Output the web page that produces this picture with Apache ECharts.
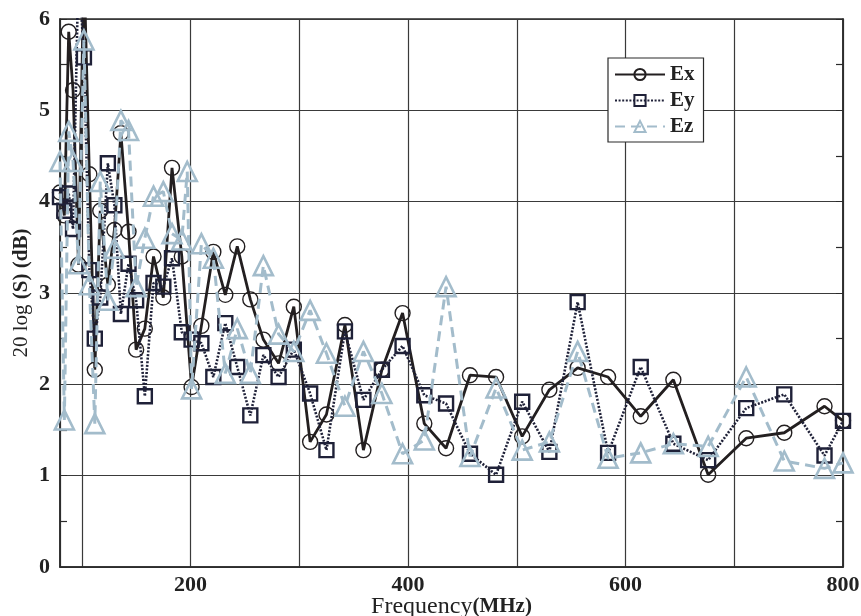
<!DOCTYPE html>
<html>
<head>
<meta charset="utf-8">
<script src="https://cdn.jsdelivr.net/npm/echarts@6/dist/echarts.min.js"></script>
<style>
  html, body { margin: 0; padding: 0; background: #fff; }
  #chart { width: 861px; height: 616px; }
</style>
</head>
<body>
<div id="chart"></div>
<script>
// frequencies (MHz)
var freq = [80, 84, 88, 92, 97, 102, 107, 112, 117, 124,
            130, 136, 143, 150, 158, 166, 175, 183, 192, 197,
            201, 210, 221, 232, 243, 255, 267, 281, 295, 310,
            325, 342, 359, 376, 395, 415, 435, 457, 481, 505,
            530, 556, 584, 614, 644, 676, 711, 746, 783, 800];

var ex = [4.10, 3.85, 5.86, 5.22, 3.31, 6.60, 4.30, 2.16, 3.90, 3.09,
          3.69, 4.75, 3.67, 2.38, 2.61, 3.40, 2.95, 4.37, 3.40, null,
          1.97, 2.64, 3.45, 2.98, 3.51, 2.93, 2.49, 2.23, 2.85, 1.37,
          1.67, 2.65, 1.28, 2.16, 2.78, 1.57, 1.30, 2.10, 2.08, 1.43,
          1.94, 2.18, 2.08, 1.65, 2.05, 1.01, 1.41, 1.47, 1.76, 1.60];

var ey = [4.05, 3.90, 4.09, 3.70, 6.60, 5.58, 3.25, 2.50, 2.95, 4.42,
          3.96, 2.77, 3.32, 2.92, 1.87, 3.11, 3.07, 3.38, 2.57, null,
          2.49, 2.45, 2.08, 2.67, 2.19, 1.66, 2.32, 2.08, 2.38, 1.90,
          1.28, 2.58, 1.83, 2.16, 2.42, 1.88, 1.79, 1.24, 1.01, 1.81,
          1.26, 2.90, 1.25, 2.19, 1.35, 1.17, 1.74, 1.89, 1.22, 1.60];

var ez = [4.44, 1.61, 4.77, 4.44, 3.32, 5.77, 3.09, 1.57, 4.22, 2.92,
          3.49, 4.89, 4.78, 3.07, 3.60, 4.06, 4.11, 3.65, 3.58, 4.33,
          1.95, 3.54, 3.38, 2.12, 2.61, 2.12, 3.30, 2.55, 2.36, 2.81,
          2.34, 1.76, 2.36, 1.90, 1.24, 1.39, 3.07, 1.21, 1.96, 1.28,
          1.37, 2.36, 1.19, 1.25, 1.35, 1.32, 2.08, 1.16, 1.08, 1.14];

var xLabels = [200, 400, 600, 800];

var chart = echarts.init(document.getElementById('chart'));

function pairs(values) {
    return freq.map(function (f, i) {
        return [f, values[i]];
    }).filter(function (p) {
        return p[1] !== null;
    });
}

var serif = '"Liberation Serif", "DejaVu Serif", serif';
var frameColor = '#2a2a2a';

var option = {
    backgroundColor: '#fff',
    animation: false,
    grid: {
        left: 60,
        right: 18,
        top: 19,
        bottom: 49,
        containLabel: false,
        outerBoundsMode: 'none',
        show: true,
        borderColor: frameColor,
        borderWidth: 1.5
    },
    legend: {
        orient: 'vertical',
        left: 608,
        top: 58,
        padding: [6, 9, 5, 6],
        itemGap: 5,
        itemWidth: 50,
        itemHeight: 14,
        backgroundColor: '#fff',
        borderColor: frameColor,
        borderWidth: 1.2,
        textStyle: {
            fontFamily: serif,
            fontWeight: 'bold',
            fontSize: 21,
            color: '#222'
        },
        data: ['Ex', 'Ey', 'Ez']
    },
    xAxis: {
        type: 'value',
        min: 80,
        max: 800,
        splitNumber: 7,
        name: '{a|Frequency}{b|(MHz)}',
        nameLocation: 'middle',
        nameGap: 28,
        nameMoveOverlap: false,
        nameTextStyle: {
            rich: {
                a: { fontFamily: serif, fontSize: 24, color: '#222' },
                b: { fontFamily: serif, fontSize: 21, fontWeight: 'bold', color: '#222' }
            }
        },
        axisLine: { lineStyle: { color: frameColor, width: 1.5 } },
        axisTick: { show: false },
        axisLabel: {
            margin: 7,
            fontFamily: serif,
            fontWeight: 'bold',
            fontSize: 22,
            color: '#222',
            formatter: function (v) {
                return xLabels.indexOf(v) >= 0 ? String(v) : '';
            }
        },
        splitLine: { show: true, lineStyle: { color: '#3a3a3a', width: 1.2 } }
    },
    yAxis: [{
        type: 'value',
        min: 0,
        max: 6,
        interval: 1,
        name: '{a|20 log }{b|(S) (dB)}',
        nameLocation: 'middle',
        nameGap: 28,
        nameMoveOverlap: false,
        nameTextStyle: {
            rich: {
                a: { fontFamily: serif, fontSize: 21, color: '#222' },
                b: { fontFamily: serif, fontSize: 21, fontWeight: 'bold', color: '#222' }
            }
        },
        axisLine: { show: true, lineStyle: { color: frameColor, width: 1.5 } },
        axisTick: { show: true, inside: true, length: 7, lineStyle: { color: frameColor } },
        minorTick: { show: true, splitNumber: 2, length: 7, lineStyle: { color: frameColor, width: 1.2 } },
        axisLabel: {
            margin: 10,
            fontFamily: serif,
            fontWeight: 'bold',
            fontSize: 22,
            color: '#222'
        },
        splitLine: { show: true, lineStyle: { color: '#3a3a3a', width: 1.2 } }
    }, {
        type: 'value',
        position: 'right',
        min: 0,
        max: 6,
        interval: 1,
        axisLine: { show: true, lineStyle: { color: frameColor, width: 1.5 } },
        axisTick: { show: true, inside: true, length: 7, lineStyle: { color: frameColor } },
        minorTick: { show: true, splitNumber: 2, length: 7, lineStyle: { color: frameColor, width: 1.2 } },
        axisLabel: { show: false },
        splitLine: { show: false }
    }],
    series: [{
        name: 'Ex',
        type: 'line',
        data: pairs(ex),
        symbol: 'circle',
        symbolSize: 15,
        itemStyle: { color: 'rgba(255,255,255,0)', borderColor: '#231f20', borderWidth: 1.4 },
        lineStyle: { color: '#231f20', width: 2.8, type: 'solid' },
        z: 2
    }, {
        name: 'Ey',
        type: 'line',
        data: pairs(ey),
        symbol: 'rect',
        symbolSize: 14,
        itemStyle: { color: 'rgba(255,255,255,0)', borderColor: '#1f2138', borderWidth: 2.4 },
        lineStyle: { color: '#1f2138', width: 2.6, type: [2, 1.6] },
        z: 3
    }, {
        name: 'Ez',
        type: 'line',
        data: pairs(ez),
        symbol: 'triangle',
        symbolSize: 19,
        itemStyle: { color: 'rgba(255,255,255,0)', borderColor: '#a3bccb', borderWidth: 2.6 },
        lineStyle: { color: '#a3bccb', width: 3, type: [10, 6] },
        z: 4
    }]
};

chart.setOption(option);
</script>
</body>
</html>
